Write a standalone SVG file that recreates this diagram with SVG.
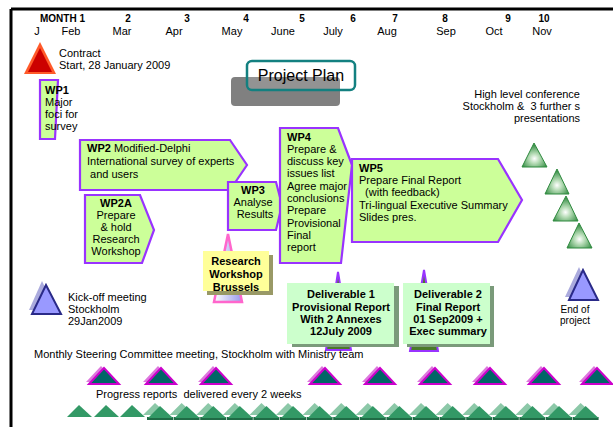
<svg xmlns="http://www.w3.org/2000/svg" width="613" height="427" viewBox="0 0 613 427">
<style>
text{font-family:"Liberation Sans",Arial,sans-serif;fill:#000;white-space:pre}
.hd{font-size:10px;font-weight:bold}
.mo{font-size:11px}
.t{font-size:11px}
.b{font-weight:bold}
.wp{fill:#ccff99;stroke:#9933ff;stroke-width:2.2}
.dl{font-size:11px;font-weight:bold;text-anchor:middle}
.mag{fill:#006666;stroke:#cc00cc;stroke-width:2}
.magsh{fill:#dd77dd}
.gr{fill:#339966}
.grsh{fill:#8cc8a8}
.grdk{fill:#1f6b45}
</style>
<defs>
<radialGradient id="pyr" cx="0.5" cy="0.65" r="0.6">
<stop offset="0" stop-color="#ffffff"/>
<stop offset="0.35" stop-color="#b5dbb5"/>
<stop offset="1" stop-color="#2f8a3f"/>
</radialGradient>
<linearGradient id="pink" x1="0" y1="0" x2="1" y2="0">
<stop offset="0" stop-color="#ffffff"/>
<stop offset="1" stop-color="#9999ee"/>
</linearGradient>
<polygon id="mtri" points="-15,8 0,-8 15,8"/>
</defs>

<!-- frame -->
<g id="frame">
<line x1="11" y1="9" x2="613" y2="9" stroke="#000" stroke-width="3"/>
<line x1="11" y1="9" x2="11" y2="427" stroke="#000" stroke-width="3"/>
</g>

<!-- timeline header -->
<g id="header">
<text class="hd" x="40" y="22">MONTH 1</text>
<text class="hd" x="128" y="22" text-anchor="middle">2</text>
<text class="hd" x="187" y="22" text-anchor="middle">3</text>
<text class="hd" x="246" y="22" text-anchor="middle">4</text>
<text class="hd" x="302" y="22" text-anchor="middle">5</text>
<text class="hd" x="353" y="22" text-anchor="middle">6</text>
<text class="hd" x="395" y="22" text-anchor="middle">7</text>
<text class="hd" x="445" y="22" text-anchor="middle">8</text>
<text class="hd" x="508" y="22" text-anchor="middle">9</text>
<text class="hd" x="544" y="22" text-anchor="middle">10</text>
<text class="mo" x="37" y="35" text-anchor="middle">J</text>
<text class="mo" x="71" y="35" text-anchor="middle">Feb</text>
<text class="mo" x="122" y="35" text-anchor="middle">Mar</text>
<text class="mo" x="174" y="35" text-anchor="middle">Apr</text>
<text class="mo" x="232" y="35" text-anchor="middle">May</text>
<text class="mo" x="283" y="35" text-anchor="middle">June</text>
<text class="mo" x="333" y="35" text-anchor="middle">July</text>
<text class="mo" x="387" y="35" text-anchor="middle">Aug</text>
<text class="mo" x="446" y="35" text-anchor="middle">Sep</text>
<text class="mo" x="494" y="35" text-anchor="middle">Oct</text>
<text class="mo" x="542" y="35" text-anchor="middle">Nov</text>
</g>

<!-- contract -->
<g id="contract">
<polygon points="40,42 24,74 56,74" fill="#ff5a2a"/>
<polygon points="40,48 28,72 52,72" fill="#cc0000"/>
<text class="t" x="59" y="57">Contract</text>
<text class="t" x="59" y="69">Start, 28 January 2009</text>
</g>

<!-- title -->
<g id="title">
<rect x="231" y="77" width="109" height="29" rx="4" fill="#808080"/>
<rect x="247" y="61" width="108" height="29" rx="5" fill="#fff" fill-opacity="0.15" stroke="#138080" stroke-width="2.5"/>
<text x="301" y="81" font-size="16" text-anchor="middle">Project Plan</text>
</g>

<!-- WP1 -->
<g id="wp1">
<polygon class="wp" points="40,80 58,80 55,139 40,139"/>
<text class="t b" x="45" y="94">WP1</text>
<text class="t" x="45" y="106">Major</text>
<text class="t" x="45" y="118">foci for</text>
<text class="t" x="45" y="130">survey</text>
</g>

<!-- WP2 -->
<g id="wp2">
<polygon class="wp" points="80,140 230,140 247,165 230,190 80,190"/>
<text class="t" x="87" y="152"><tspan class="b">WP2</tspan> Modified-Delphi</text>
<text class="t" x="87" y="165">International survey of experts</text>
<text class="t" x="87" y="178"> and users</text>
</g>

<!-- WP2A -->
<g id="wp2a">
<polygon class="wp" points="85,195 140,195 154,230 142,263 85,263"/>
<text class="t b" x="116" y="207" text-anchor="middle">WP2A</text>
<text class="t" x="116" y="219" text-anchor="middle">Prepare</text>
<text class="t" x="116" y="231" text-anchor="middle">&amp; hold</text>
<text class="t" x="116" y="243" text-anchor="middle">Research</text>
<text class="t" x="116" y="255" text-anchor="middle">Workshop</text>
</g>

<!-- WP3 -->
<g id="wp3">
<polygon class="wp" points="228,182 276,182 282,205 276,230 228,230"/>
<text class="t b" x="253" y="194" text-anchor="middle">WP3</text>
<text class="t" x="253" y="206" text-anchor="middle">Analyse</text>
<text class="t" x="255" y="218" text-anchor="middle">Results</text>
</g>

<!-- WP4 -->
<g id="wp4">
<polygon class="wp" points="280,128 338,128 352,165 341,263 280,263"/>
<text class="t b" x="287" y="141">WP4</text>
<text class="t" x="287" y="153">Prepare &amp;</text>
<text class="t" x="287" y="165">discuss key</text>
<text class="t" x="287" y="177">issues list</text>
<text class="t" x="287" y="190">Agree major</text>
<text class="t" x="287" y="202">conclusions</text>
<text class="t" x="287" y="214">Prepare</text>
<text class="t" x="287" y="227">Provisional</text>
<text class="t" x="287" y="239">Final</text>
<text class="t" x="287" y="251">report</text>
</g>

<!-- WP5 -->
<g id="wp5">
<polygon class="wp" points="352,159 498,159 522,200 498,242 352,242"/>
<text class="t b" x="359" y="172">WP5</text>
<text class="t" x="359" y="184">Prepare Final Report</text>
<text class="t" x="359" y="196">  (with feedback)</text>
<text class="t" x="359" y="209">Tri-lingual Executive Summary</text>
<text class="t" x="359" y="221">Slides pres.</text>
</g>

<!-- conference -->
<g id="conference">
<text class="t" x="580" y="98" text-anchor="end">High level conference</text>
<text class="t" x="580" y="110" text-anchor="end">Stockholm &amp;  3 further s</text>
<text class="t" x="580" y="122" text-anchor="end">presentations</text>
<polygon points="534,143 522,167 547,167" fill="url(#pyr)" stroke="#2f8a3f" stroke-width="1"/>
<polygon points="557,169 545,194 569,194" fill="url(#pyr)" stroke="#2f8a3f" stroke-width="1"/>
<polygon points="566,196 553,221 578,221" fill="url(#pyr)" stroke="#2f8a3f" stroke-width="1"/>
<polygon points="579,223 567,248 592,248" fill="url(#pyr)" stroke="#2f8a3f" stroke-width="1"/>
</g>

<!-- kick-off -->
<g id="kickoff">
<polygon points="42,281 29,310 56,310" fill="#aaaadd"/>
<polygon points="46,285 32,314 61,314" fill="#9999ff" stroke="#2a2a88" stroke-width="2"/>
<text class="t" x="68" y="301">Kick-off meeting</text>
<text class="t" x="68" y="313">Stockholm</text>
<text class="t" x="68" y="325">29Jan2009</text>
</g>

<!-- workshop -->
<g id="workshop">
<polygon points="228,234 214,302 242,302" fill="url(#pink)" stroke="#ff66cc" stroke-width="2.5"/>
<rect x="207" y="255" width="66" height="40" fill="#999966"/>
<rect x="203" y="251" width="66" height="40" fill="#ffff99"/>
<text class="dl" x="236" y="265">Research</text>
<text class="dl" x="236" y="278">Workshop</text>
<text class="dl" x="236" y="291">Brussels</text>
</g>

<!-- deliverable 1 -->
<g id="deliverable1">
<polygon points="338,272 326,350 351,350" fill="#4a7a2a" stroke="#9933ff" stroke-width="2"/>
<rect x="292" y="286" width="107" height="61" fill="#7a9a7a"/>
<rect x="287" y="283" width="107" height="61" fill="#ccffcc"/>
<text class="dl" x="341" y="298">Deliverable 1</text>
<text class="dl" x="341" y="311">Provisional Report</text>
<text class="dl" x="341" y="323">With 2 Annexes</text>
<text class="dl" x="341" y="335">12July 2009</text>
</g>

<!-- deliverable 2 -->
<g id="deliverable2">
<polygon points="424,270 410,351 438,351" fill="#4a7a2a" stroke="#9933ff" stroke-width="2"/>
<rect x="407" y="286" width="87" height="61" fill="#7a9a7a"/>
<rect x="403" y="283" width="87" height="61" fill="#ccffcc"/>
<text class="dl" x="448" y="298">Deliverable 2</text>
<text class="dl" x="448" y="311">Final Report</text>
<text class="dl" x="448" y="323">01 Sep2009 +</text>
<text class="dl" x="448" y="335">Exec summary</text>
</g>

<!-- end of project -->
<g id="endproject">
<polygon points="579,267 565,297 592,297" fill="#aaaadd"/>
<polygon points="583,270 569,300 598,300" fill="#9999ff" stroke="#2a2a88" stroke-width="2"/>
<text x="575" y="313" font-size="10" text-anchor="middle">End of</text>
<text x="575" y="324" font-size="10" text-anchor="middle">project</text>
</g>

<!-- steering committee -->
<g id="steering">
<text class="t" x="34" y="358">Monthly Steering Committee meeting, Stockholm with Ministry team</text>
<g transform="translate(104,376)"><use href="#mtri" class="magsh" transform="translate(-3,-2)"/><use href="#mtri" class="mag"/></g>
<g transform="translate(161,376)"><use href="#mtri" class="magsh" transform="translate(-3,-2)"/><use href="#mtri" class="mag"/></g>
<g transform="translate(216,376)"><use href="#mtri" class="magsh" transform="translate(-3,-2)"/><use href="#mtri" class="mag"/></g>
<g transform="translate(325,376)"><use href="#mtri" class="magsh" transform="translate(-3,-2)"/><use href="#mtri" class="mag"/></g>
<g transform="translate(380,376)"><use href="#mtri" class="magsh" transform="translate(-3,-2)"/><use href="#mtri" class="mag"/></g>
<g transform="translate(435,376)"><use href="#mtri" class="magsh" transform="translate(-3,-2)"/><use href="#mtri" class="mag"/></g>
<g transform="translate(490,376)"><use href="#mtri" class="magsh" transform="translate(-3,-2)"/><use href="#mtri" class="mag"/></g>
<g transform="translate(544,376)"><use href="#mtri" class="magsh" transform="translate(-3,-2)"/><use href="#mtri" class="mag"/></g>
<g transform="translate(597,376)"><use href="#mtri" class="magsh" transform="translate(-3,-2)"/><use href="#mtri" class="mag"/></g>
</g>

<!-- progress reports -->
<g id="progress">
<text class="t" x="96" y="398">Progress reports  delivered every 2 weeks</text>
<polygon class="gr" points="79,405 67,417 92,417"/>
<polygon class="gr" points="106,405 94,417 119,417"/>
<polygon class="gr" points="132,405 120,417 145,417"/>
<g id="dbl">
<polygon class="grsh" points="155,403 143,415 168,415"/>
<polygon class="grdk" points="147,417 173,417 173,420 147,420"/>
<polygon class="gr" points="160,406 148,418 173,418"/>
</g>
<use href="#dbl" x="26.6"/>
<use href="#dbl" x="53.2"/>
<use href="#dbl" x="79.8"/>
<use href="#dbl" x="106.4"/>
<use href="#dbl" x="133"/>
<use href="#dbl" x="159.6"/>
<use href="#dbl" x="186.2"/>
<use href="#dbl" x="212.8"/>
<use href="#dbl" x="239.4"/>
<use href="#dbl" x="266"/>
<use href="#dbl" x="292.6"/>
<use href="#dbl" x="319.2"/>
<use href="#dbl" x="345.8"/>
<use href="#dbl" x="372.4"/>
<use href="#dbl" x="399"/>
<use href="#dbl" x="425.6"/>
</g>
</svg>
